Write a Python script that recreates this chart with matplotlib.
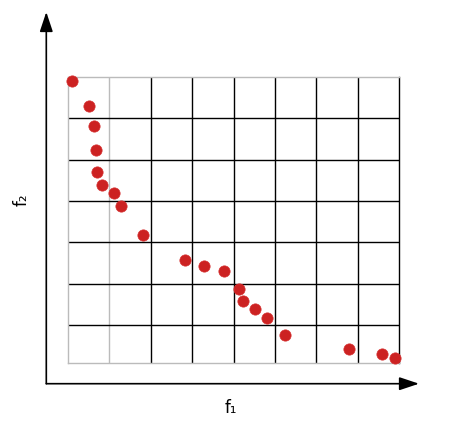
import matplotlib.pyplot as plt

# Pareto front points, in grid units
f1 = [0.11, 0.51, 0.63, 0.68, 0.71, 0.83, 1.12, 1.28, 1.82, 2.82,
      3.28, 3.78, 4.13, 4.22, 4.52, 4.82, 5.24, 6.79, 7.58, 7.89]
f2 = [5.89, 5.30, 4.80, 4.23, 3.69, 3.39, 3.19, 2.89, 2.18, 1.58,
      1.43, 1.32, 0.88, 0.59, 0.39, 0.18, -0.23, -0.58, -0.69, -0.78]

x_grid = [1, 2, 3, 4, 5, 6, 7]
y_grid = [0, 1, 2, 3, 4, 5]

W, H = 472, 421
fig = plt.figure(figsize=(W / 100, H / 100), dpi=100)
ax = fig.add_axes([67.7 / W, (H - 363.3) / H, 331.6 / W, 286.6 / H])

ax.set_xlim(0, 8)
ax.set_ylim(-0.92, 6)
ax.set_xticks(x_grid)
ax.set_yticks(y_grid)
ax.tick_params(length=0, labelleft=False, labelbottom=False)
ax.grid(True, color='black', linewidth=1.0)
ax.xaxis.get_gridlines()[0].set_color('#bbbbbb')  # first column line is grey

for side in ['left', 'top', 'bottom']:
    ax.spines[side].set_color('#bbbbbb')
ax.spines['right'].set_color('black')
for s in ax.spines.values():
    s.set_linewidth(1.0)

ax.scatter(f1, f2, s=66, color='#cc2222', edgecolors='#d63030', linewidths=0.5,
           zorder=5, clip_on=False)

# axis arrows (figure pixels)
ap = dict(arrowstyle='-|>,head_length=0.6,head_width=0.2', mutation_scale=20,
          color='black', lw=1.2, shrinkA=0, shrinkB=0)
ax.annotate('', xy=(46.3, H - 12), xytext=(46.3, H - 383.7),
            xycoords='figure pixels', textcoords='figure pixels', arrowprops=ap)
ax.annotate('', xy=(419, H - 383.7), xytext=(46.3, H - 383.7),
            xycoords='figure pixels', textcoords='figure pixels', arrowprops=ap)

fig.text(231 / W, (H - 408) / H, 'f₁', fontsize=12, ha='center', va='center')
fig.text(22 / W, (H - 200) / H, 'f₂', fontsize=12, ha='center', va='center', rotation=90)

plt.savefig('out.png', dpi=100)
